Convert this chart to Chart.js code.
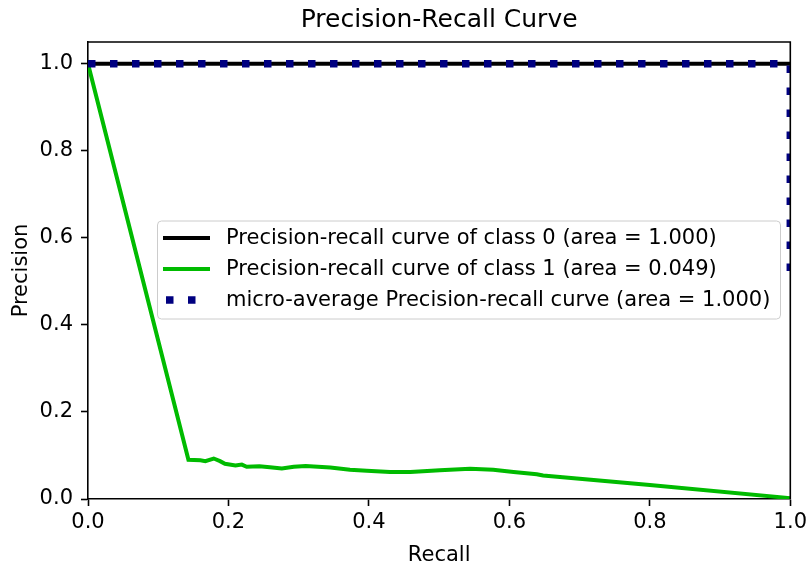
<!DOCTYPE html>
<html>
<head>
<meta charset="utf-8">
<title>Precision-Recall Curve</title>
<script src="https://cdn.jsdelivr.net/npm/chart.js@4.4.1/dist/chart.umd.min.js"></script>
<style>
  body { margin: 0; background: #fff; }
  #wrap { width: 811px; height: 568px; }
</style>
</head>
<body>
<div id="wrap"><canvas id="prChart" width="811" height="568"></canvas></div>
<script>
// class 0 curve
const recallClass0 = [0, 1];
const precisionClass0 = [1, 1];

// class 1 curve
const recallClass1 = [0, 0.143, 0.160, 0.167, 0.179, 0.188, 0.195, 0.210, 0.219, 0.226,
    0.244, 0.259, 0.276, 0.293, 0.310, 0.345, 0.373, 0.397, 0.430, 0.459,
    0.501, 0.544, 0.577, 0.606, 0.639, 0.648, 0.800, 1.0];
const precisionClass1 = [1.0, 0.090, 0.089, 0.087, 0.093, 0.087, 0.081, 0.077, 0.079, 0.074,
    0.075, 0.073, 0.070, 0.074, 0.076, 0.0725, 0.067, 0.065, 0.062, 0.062,
    0.066, 0.0695, 0.067, 0.062, 0.057, 0.054, 0.032, 0.002];

// micro-average curve
const recallMicro = [0, 1, 1];
const precisionMicro = [1, 1, 0.5];

const curveLabels = [
    "Precision-recall curve of class 0 (area = 1.000)",
    "Precision-recall curve of class 1 (area = 0.049)",
    "micro-average Precision-recall curve (area = 1.000)"
];

const xTicks = [0, 0.2, 0.4, 0.6, 0.8, 1.0];
const yTicks = [0, 0.2, 0.4, 0.6, 0.8, 1.0];

function toPoints(xs, ys) {
    return xs.map((x, i) => ({ x: x, y: ys[i] }));
}

Chart.defaults.font.family = "'DejaVu Sans', sans-serif";
Chart.defaults.font.size = 21;
Chart.defaults.color = "#000";

// top/right spines and title
const frame = {
    id: "frame",
    afterDatasetsDraw(chart) {
        const { ctx, chartArea: a } = chart;
        ctx.save();
        ctx.strokeStyle = "#000";
        ctx.lineWidth = 1.6;
        ctx.beginPath();
        ctx.moveTo(a.left, a.top);
        ctx.lineTo(a.right, a.top);
        ctx.lineTo(a.right, a.bottom);
        ctx.stroke();
        ctx.font = "25px 'DejaVu Sans', sans-serif";
        ctx.fillStyle = "#000";
        ctx.textAlign = "center";
        ctx.textBaseline = "alphabetic";
        ctx.fillText("Precision-Recall Curve", (a.left + a.right) / 2, 27);
        ctx.restore();
    }
};

// legend box inside the plot
const boxLegend = {
    id: "boxLegend",
    afterDraw(chart) {
        const ctx = chart.ctx;
        const x0 = 157.5, y0 = 221, w = 623, h = 98;
        ctx.save();
        ctx.beginPath();
        ctx.roundRect(x0, y0, w, h, 4);
        ctx.fillStyle = "rgba(255,255,255,0.8)";
        ctx.fill();
        ctx.strokeStyle = "#cccccc";
        ctx.lineWidth = 1;
        ctx.stroke();

        chart.data.datasets.forEach((ds, i) => {
            const y = 238 + i * 31;
            ctx.strokeStyle = ds.borderColor;
            ctx.lineWidth = ds.borderWidth;
            ctx.lineCap = "butt";
            ctx.setLineDash(ds.borderDash || []);
            ctx.beginPath();
            ctx.moveTo(ds.borderDash ? 166 : 163, y);
            ctx.lineTo(210, y);
            ctx.stroke();
            ctx.setLineDash([]);
            ctx.fillStyle = "#000";
            ctx.font = "21px 'DejaVu Sans', sans-serif";
            ctx.textAlign = "left";
            ctx.textBaseline = "middle";
            ctx.fillText(ds.label, 226, y + 1);
        });
        ctx.restore();
    }
};

new Chart(document.getElementById("prChart"), {
    type: "line",
    data: {
        datasets: [
            {
                label: curveLabels[0],
                data: toPoints(recallClass0, precisionClass0),
                borderColor: "#000000",
                borderWidth: 4,
                order: 2
            },
            {
                label: curveLabels[1],
                data: toPoints(recallClass1, precisionClass1),
                borderColor: "#00bb00",
                borderWidth: 4,
                order: 1
            },
            {
                label: curveLabels[2],
                data: toPoints(recallMicro, precisionMicro),
                borderColor: "#000080",
                borderWidth: 7.5,
                borderDash: [7.5, 14.5],
                order: 0
            }
        ]
    },
    options: {
        responsive: false,
        animation: false,
        layout: { padding: { top: 42, right: 20, left: 0, bottom: 0 } },
        elements: {
            point: { radius: 0 },
            line: { tension: 0, fill: false }
        },
        plugins: {
            legend: { display: false },
            tooltip: { enabled: false },
            title: { display: false }
        },
        scales: {
            x: {
                type: "linear",
                min: 0,
                max: 1,
                afterFit: s => { s.height = 69; },
                afterBuildTicks: s => { s.ticks = xTicks.map(v => ({ value: v })); },
                ticks: {
                    padding: 4,
                    maxRotation: 0,
                    callback: v => v.toFixed(1)
                },
                grid: {
                    drawOnChartArea: false,
                    drawTicks: true,
                    tickLength: 7,
                    tickWidth: 1.6,
                    tickColor: "#000"
                },
                border: { display: true, color: "#000", width: 1.6 },
                title: {
                    display: true,
                    text: "Recall",
                    font: { size: 21 },
                    padding: { top: 7, bottom: 0 }
                }
            },
            y: {
                type: "linear",
                min: 0,
                max: 1.05,
                afterFit: s => { s.width = 88; },
                afterBuildTicks: s => { s.ticks = yTicks.map(v => ({ value: v })); },
                ticks: {
                    padding: 8,
                    callback: v => v.toFixed(1)
                },
                grid: {
                    drawOnChartArea: false,
                    drawTicks: true,
                    tickLength: 7,
                    tickWidth: 1.6,
                    tickColor: "#000"
                },
                border: { display: true, color: "#000", width: 1.6 },
                title: {
                    display: true,
                    text: "Precision",
                    font: { size: 21 },
                    padding: { top: 9, bottom: 0 }
                }
            }
        }
    },
    plugins: [frame, boxLegend]
});
</script>
</body>
</html>
